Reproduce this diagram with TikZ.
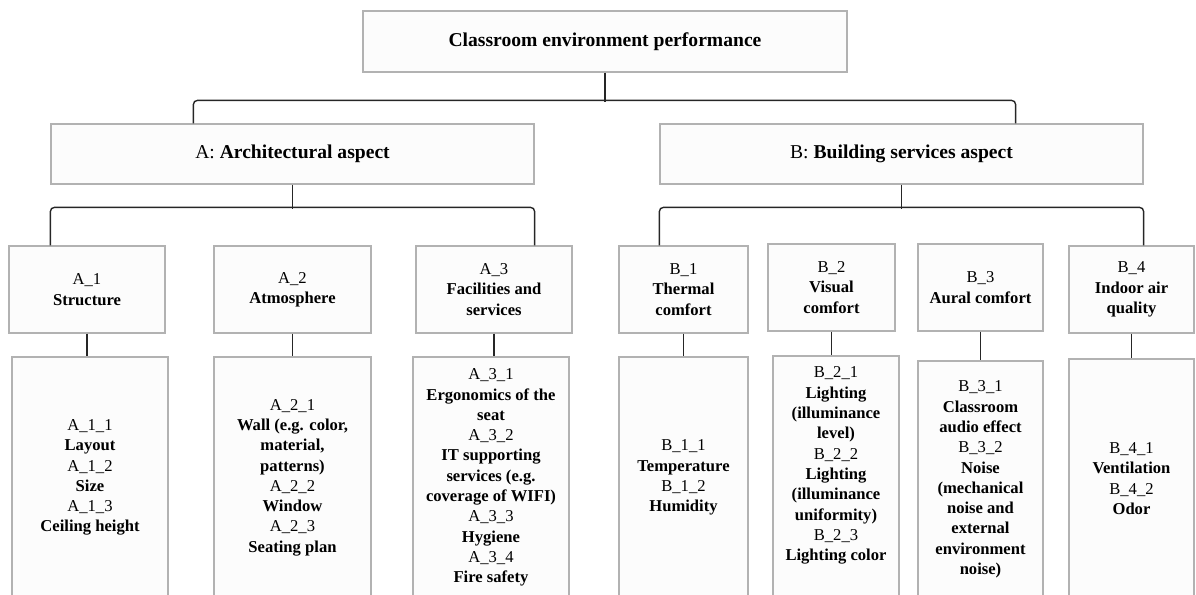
\documentclass[tikz,border=0pt]{standalone}
\usepackage{fontspec}
\setmainfont{Liberation Serif}
\tikzset{box/.style={draw=black!30,fill=black!1,line width=0.6pt,inner sep=0pt,align=center}}
\tikzset{link/.style={draw=black!85,line width=0.7pt,rounded corners=2pt}}
\newcommand{\headfont}{\fontsize{9.8}{11.8}\selectfont}
\newcommand{\itemfont}{\fontsize{8.3}{10.15}\selectfont}

\begin{document}
\begin{tikzpicture}[x=0.5pt,y=-0.5pt,
    head/.style={box,font=\headfont,minimum height=30pt},
    sub/.style={box,font=\itemfont,minimum height=43.5pt},
    leaf/.style={box,font=\itemfont,minimum height=120.5pt}]
\useasboundingbox (0,0) rectangle (1196,595);

% goal and aspects
\node[head,minimum width=242pt,minimum height=30.5pt] (T) at (605,41.5) {\textbf{Classroom environment performance}};
\node[head,minimum width=241.5pt] (A) at (292.5,154) {A: \textbf{Architectural aspect}};
\node[head,minimum width=241.5pt] (B) at (901.5,154) {B: \textbf{Building services aspect}};

% criteria
\node[sub,minimum width=78pt] (A1) at (87,289.5) {A\_1\\\textbf{Structure}};
\node[sub,minimum width=78.5pt] (A2) at (292.5,289.5) {A\_2\\\textbf{Atmosphere}};
\node[sub,minimum width=78pt] (A3) at (494,289.5) {A\_3\\\textbf{Facilities and}\\\textbf{services}};
\node[sub,minimum width=64.5pt] (B1) at (683.5,289.5) {B\_1\\\textbf{Thermal}\\\textbf{comfort}};
\node[sub,minimum width=63.5pt] (B2) at (831.5,287.5) {B\_2\\\textbf{Visual}\\\textbf{comfort}};
\node[sub,minimum width=62.5pt] (B3) at (980.5,287.5) {B\_3\\\textbf{Aural comfort}};
\node[sub,minimum width=62.5pt] (B4) at (1131.5,289.5) {B\_4\\\textbf{Indoor air}\\\textbf{quality}};

% sub-criteria
\node[leaf,minimum width=78pt] (A1d) at (90,477.5) {A\_1\_1\\\textbf{Layout}\\A\_1\_2\\\textbf{Size}\\A\_1\_3\\\textbf{Ceiling height}};
\node[leaf,minimum width=78.5pt] (A2d) at (292.5,477.5) {A\_2\_1\\\textbf{Wall (e.g. color,}\\\textbf{material,}\\\textbf{patterns)}\\A\_2\_2\\\textbf{Window}\\A\_2\_3\\\textbf{Seating plan}};
\node[leaf,minimum width=78pt] (A3d) at (491,477.5) {A\_3\_1\\\textbf{Ergonomics of the}\\\textbf{seat}\\A\_3\_2\\\textbf{IT supporting}\\\textbf{services (e.g.}\\\textbf{coverage of WIFI)}\\A\_3\_3\\\textbf{Hygiene}\\A\_3\_4\\\textbf{Fire safety}};
\node[leaf,minimum width=64.5pt] (B1d) at (683.5,477.5) {B\_1\_1\\\textbf{Temperature}\\B\_1\_2\\\textbf{Humidity}};
\node[leaf,minimum width=63pt,minimum height=121pt] (B2d) at (836,477) {B\_2\_1\\\textbf{Lighting}\\\textbf{(illuminance}\\\textbf{level)}\\B\_2\_2\\\textbf{Lighting}\\\textbf{(illuminance}\\\textbf{uniformity)}\\B\_2\_3\\\textbf{Lighting color}\\\strut};
\node[leaf,minimum width=62.5pt,minimum height=118.5pt] (B3d) at (980.5,479.5) {B\_3\_1\\\textbf{Classroom}\\\textbf{audio effect}\\B\_3\_2\\\textbf{Noise}\\\textbf{(mechanical}\\\textbf{noise and}\\\textbf{external}\\\textbf{environment}\\\textbf{noise)}};
\node[leaf,minimum width=62.5pt,minimum height=119.5pt] (B4d) at (1131.5,478.5) {B\_4\_1\\\textbf{Ventilation}\\B\_4\_2\\\textbf{Odor}};

% brackets
\draw[link] (T.south) -- ++(0,29);
\draw[link] ([xshift=71.5pt]A.north west) -- ++(0,-23) -| ([xshift=-64pt]B.north east);
\draw[link] (A.south) -- ++(0,24);
\draw[link] (A.south west |- A1.north) -- ++(0,-38) -| (A.south east |- A3.north);
\draw[link] (B.south) -- ++(0,24);
\draw[link] (B.south west |- B1.north) -- ++(0,-38) -| (B.south east |- B4.north);

% criteria to sub-criteria
\foreach \c in {A1,A2,A3,B1,B2,B3,B4}
  \draw[link] (\c.south) -- (\c.south |- \c d.north);
\end{tikzpicture}
\end{document}
